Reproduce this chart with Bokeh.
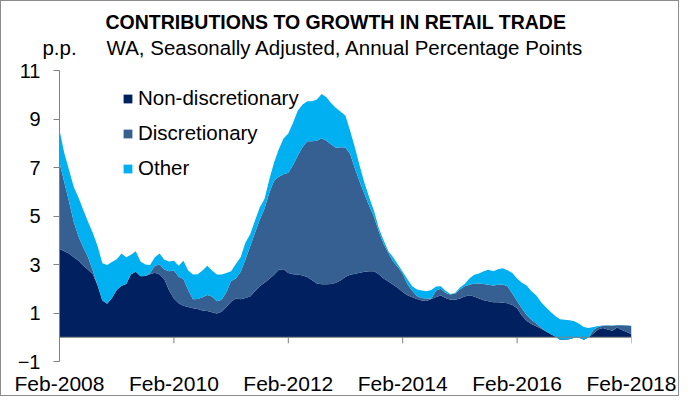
from bokeh.plotting import figure
from bokeh.models import Range1d, FixedTicker, Span, Legend, LegendItem, Title, LinearAxis
from bokeh.embed import file_html
from bokeh.resources import INLINE

# months since Feb-2008 (monthly data Feb-2008 .. Feb-2018)
months = list(range(121))

non_disc = [3.65, 3.55, 3.45, 3.3, 3.15, 2.95, 2.78, 2.6, 2.13, 1.52,
            1.38, 1.62, 1.95, 2.12, 2.2, 2.6, 2.7, 2.52, 2.53, 2.6,
            2.66, 2.59, 2.39, 1.93, 1.6, 1.4, 1.3, 1.25, 1.2, 1.17,
            1.1, 1.08, 1.03, 0.98, 1.05, 1.25, 1.46, 1.6, 1.57, 1.62,
            1.68, 1.9, 2.1, 2.25, 2.4, 2.58, 2.78, 2.8, 2.65, 2.6,
            2.59, 2.55, 2.48, 2.35, 2.22, 2.19, 2.19, 2.2, 2.25, 2.35,
            2.5, 2.58, 2.62, 2.66, 2.7, 2.72, 2.72, 2.6, 2.42, 2.3,
            2.17, 2.03, 1.87, 1.73, 1.65, 1.58, 1.52, 1.5, 1.58, 1.66,
            1.72, 1.62, 1.55, 1.55, 1.6, 1.68, 1.73, 1.68, 1.6, 1.53,
            1.48, 1.44, 1.44, 1.42, 1.4, 1.33, 1.2, 0.9, 0.68, 0.55,
            0.45, 0.36, 0.25, 0.13, 0.03, -0.1, -0.1, -0.08, -0.02, -0.02,
            -0.1, 0.0, 0.15, 0.32, 0.38, 0.32, 0.27, 0.4, 0.3, 0.22,
            0.12]

discretionary = [3.55, 2.85, 2.15, 1.45, 1.0, 0.75, 0.52, 0.15, 0, 0,
                 0, 0, 0, 0, 0, 0, 0, 0, 0, 0.05,
                 0.29, 0.41, 0.4, 0.79, 1.15, 1.1, 1.1, 0.7, 0.37, 0.41,
                 0.55, 0.66, 0.65, 0.5, 0.5, 0.61, 0.86, 0.82, 1.13, 1.58,
                 2.07, 2.4, 2.75, 3.05, 3.55, 3.87, 3.84, 3.92, 4.13, 4.5,
                 4.91, 5.3, 5.6, 5.73, 5.88, 6.02, 5.91, 5.75, 5.56, 5.49,
                 5.32, 4.97, 4.33, 3.74, 3.2, 2.68, 2.23, 1.75, 1.43, 1.18,
                 0.95, 0.87, 0.75, 0.46, 0.27, 0.12, 0.1, 0.1, 0.02, 0.27,
                 0.28, 0.2, 0.21, 0.25, 0.37, 0.42, 0.44, 0.54, 0.62, 0.67,
                 0.69, 0.69, 0.73, 0.76, 0.7, 0.47, 0.3, 0.3, 0.24, 0.17,
                 0.13, 0.04, 0, 0, 0, 0, 0, 0, 0, 0,
                 0, 0, 0.15, 0.1, 0.09, 0.16, 0.2, 0.1, 0.2, 0.26,
                 0.34]

other = [1.35, 1.2, 1.3, 1.45, 1.6, 1.55, 1.45, 1.55, 1.62, 1.53,
         1.6, 1.48, 1.27, 1.33, 1.1, 0.8, 0.85, 0.6, 0.47, 0.33,
         0.35, 0.45, 0.41, 0.4, 0.4, 0.45, 0.75, 0.8, 1.02, 1.02,
         1.1, 1.21, 1.07, 1.11, 1.04, 0.79, 0.4, 0.6, 0.6, 0.7,
         0.5, 0.5, 0.5, 0.4, 0.55, 0.75, 1.13, 1.48, 1.62, 1.75,
         1.85, 1.75, 1.65, 1.65, 1.7, 1.82, 1.8, 1.7, 1.64, 1.46,
         1.31, 0.95, 0.85, 0.65, 0.45, 0.35, 0.25, 0.15, 0.15, 0.07,
         0.18, 0.1, 0.08, 0.2, 0.18, 0.27, 0.31, 0.3, 0.35, 0.16,
         0.1, 0.1, 0.02, 0.02, 0.08, 0.1, 0.25, 0.36, 0.41, 0.52,
         0.61, 0.59, 0.63, 0.67, 0.66, 0.85, 0.92, 1.05, 1.21, 1.18,
         1.15, 1.05, 1.0, 0.92, 0.85, 0.84, 0.82, 0.78, 0.68, 0.58,
         0.52, 0.38, 0.12, 0.04, 0.01, 0.01, 0.01, 0.01, 0.01, 0.01,
         0.01]

tick_months = [0, 24, 48, 72, 96, 120]
tick_labels = ["Feb-2008", "Feb-2010", "Feb-2012", "Feb-2014", "Feb-2016", "Feb-2018"]
y_ticks = [-1, 1, 3, 5, 7, 9, 11]

series_names = ["Non-discretionary", "Discretionary", "Other"]
colors = ["#002060", "#376092", "#00B0F0"]

title_text = "CONTRIBUTIONS TO GROWTH IN RETAIL TRADE"
subtitle_text = "WA, Seasonally Adjusted, Annual Percentage Points"
unit_text = "p.p."
# header row: unit sits over the y axis, subtitle centred over the plot
header_pos = [0, 60]
header_texts = [unit_text, subtitle_text]

FONT = "Liberation Sans"
AXIS_GREY = "#808080"

# cumulative stacks
c0 = [0.0] * len(months)
c1 = [a for a in non_disc]
c2 = [a + b for a, b in zip(c1, discretionary)]
c3 = [a + b for a, b in zip(c2, other)]

p = figure(width=679, height=396, output_backend="svg", toolbar_location=None, title=None,
           x_range=Range1d(0, 120), y_range=Range1d(-1, 11),
           min_border_left=58, min_border_right=49, min_border_top=69, min_border_bottom=34)
p.styles = {"border": "1px solid #8c8c8c"}
p.outline_line_color = None
p.xgrid.visible = False
p.ygrid.visible = False
p.background_fill_color = "white"
p.border_fill_color = "white"

bands = [(c0, c1), (c1, c2), (c2, c3)]
renderers = []
for (lo, hi), col in zip(bands, colors):
    r = p.varea(x=months, y1=lo, y2=hi, fill_color=col, fill_alpha=1.0)
    renderers.append(r)

# zero line with ticks hanging below it
p.add_layout(Span(location=0, dimension="width", line_color=AXIS_GREY, line_width=1))
p.segment(x0=tick_months, y0=[0] * len(tick_months), x1=tick_months,
          y1=[-0.25] * len(tick_months), line_color=AXIS_GREY, line_width=1)

# y axis
ya = p.yaxis[0]
ya.ticker = FixedTicker(ticks=y_ticks)
ya.axis_line_color = AXIS_GREY
ya.major_tick_line_color = AXIS_GREY
ya.major_tick_out = 6
ya.major_tick_in = 0
ya.minor_tick_line_color = None
ya.major_label_standoff = 13
ya.major_label_text_font = FONT
ya.major_label_text_font_size = "20px"
ya.major_label_text_color = "black"

# x axis: labels only (axis line drawn at zero)
xa = p.xaxis[0]
xa.ticker = FixedTicker(ticks=tick_months)
xa.major_label_overrides = {m: lab for m, lab in zip(tick_months, tick_labels)}
xa.axis_line_color = None
xa.major_tick_line_color = None
xa.minor_tick_line_color = None
xa.major_tick_out = 0
xa.major_tick_in = 0
xa.major_label_standoff = 10
xa.major_label_text_font = FONT
xa.major_label_text_font_size = "21px"
xa.major_label_text_color = "black"

legend = Legend(items=[LegendItem(label=n, renderers=[r]) for n, r in zip(series_names, renderers)],
                location=(63, 181), orientation="vertical",
                label_text_font=FONT, label_text_font_size="20.5px", label_text_color="black",
                glyph_width=11, glyph_height=11, label_standoff=5, spacing=11,
                padding=0, margin=0, border_line_color=None, background_fill_alpha=0)
p.add_layout(legend)

# header row (unit + subtitle) as a label-only axis right above the plot
hdr = LinearAxis(ticker=FixedTicker(ticks=header_pos),
                 major_label_overrides={k: t for k, t in zip(header_pos, header_texts)})
hdr.axis_line_color = None
hdr.major_tick_line_color = None
hdr.minor_tick_line_color = None
hdr.major_tick_out = 0
hdr.major_tick_in = 0
hdr.major_label_standoff = 12
hdr.major_label_text_font = FONT
hdr.major_label_text_font_size = "20.5px"
hdr.major_label_text_color = "black"
p.add_layout(hdr, "above")

p.add_layout(Title(text=title_text, align="left", offset=46, standoff=0,
                   text_font=FONT, text_font_size="19.5px", text_font_style="bold",
                   text_color="black"), "above")

open("out.html", "w").write(file_html(p, INLINE))
